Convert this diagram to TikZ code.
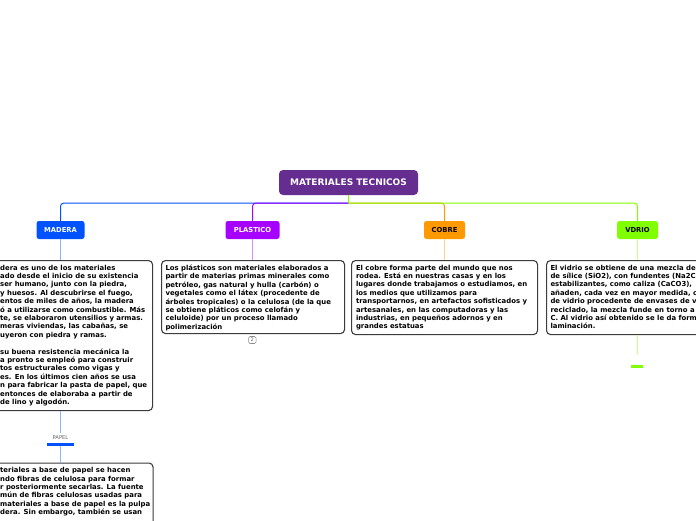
\documentclass[tikz,border=0pt]{standalone}
\usepackage{fontspec}
\setmainfont{DejaVu Sans}
\usetikzlibrary{calc}
\definecolor{rootfill}{HTML}{662D91}
\definecolor{maderafill}{HTML}{0052FF}
\definecolor{plasticofill}{HTML}{A600FF}
\definecolor{cobrefill}{HTML}{FF9900}
\definecolor{vdriofill}{HTML}{80FF00}
\definecolor{noteedge}{HTML}{3C3C3C}

\begin{document}
\begin{tikzpicture}[
    x=1pt, y=-1pt,
    rootbox/.style={
      fill=rootfill, rounded corners=4pt,
      minimum width=139pt, minimum height=25pt, inner sep=0pt,
      text=white, font=\fontsize{9}{10}\selectfont\bfseries,
    },
    topicbox/.style={
      rounded corners=2.5pt, minimum height=18pt, inner sep=0pt,
      font=\fontsize{6.8}{8}\selectfont\bfseries,
    },
    notebox/.style={
      draw=noteedge, fill=white, rounded corners=4pt, line width=1.1pt,
      anchor=north west, inner sep=0pt,
    },
    notetext/.style={
      anchor=north west, align=left, inner sep=0pt,
      font=\fontsize{6.9}{8.4}\selectfont\bfseries,
      execute at begin node=\strut,
    },
    busline/.style={line width=1pt, rounded corners=3pt},
    stemline/.style={line width=1pt},
    subbar/.style={minimum height=2.6pt, inner sep=0pt},
    sublabel/.style={font=\fontsize{5.2}{6}\selectfont, text=black!60,
                     inner sep=0pt},
    badge/.style={draw=black!45, rounded corners=1.5pt, line width=0.6pt,
                  minimum width=7.5pt, minimum height=7pt, inner sep=0pt,
                  font=\fontsize{5}{5}\selectfont, text=black!60},
  ]
  \fill[white, use as bounding box] (0,0) rectangle (696,520);
  \clip (0,0) rectangle (696,520);

  % -----------------------------------------------------------
  % Central topic and the four main topics
  % -----------------------------------------------------------
  \node[rootbox] (root) at (348.5,182.5) {MATERIALES TECNICOS};

  \node[topicbox, fill=maderafill, text=white, minimum width=48pt]
        (madera)   at (60.5,230)  {MADERA};
  \node[topicbox, fill=plasticofill, text=white, minimum width=54pt]
        (plastico) at (252.5,230) {PLASTICO};
  \node[topicbox, fill=cobrefill, text=black, minimum width=41pt]
        (cobre)    at (444.5,230) {COBRE};
  \node[topicbox, fill=vdriofill, text=black, minimum width=41pt]
        (vdrio)    at (637.5,230) {VDRIO};

  % -----------------------------------------------------------
  % Bus from the central topic (later ones drawn on top)
  % -----------------------------------------------------------
  \coordinate (hub) at ($(root.south)+(0,8)$);

  \draw[busline, maderafill]   (hub) -| (madera.north);
  \draw[busline, cobrefill]    (hub) -| (cobre.north);
  \draw[busline, plasticofill] (hub) -| (plastico.north);
  \draw[busline, vdriofill]    (hub) -| (vdrio.north);
  \draw[stemline, vdriofill]   (root.south) -- (hub);

  % -----------------------------------------------------------
  % Note boxes
  % -----------------------------------------------------------
  \node[notebox, minimum width=156.5pt, minimum height=150pt]
        (maderanote) at (-4.5,260) {};
  \node[notebox, minimum width=183pt, minimum height=73pt]
        (plasnote)   at (161,260) {};
  \node[notebox, minimum width=186pt, minimum height=74pt]
        (cobrenote)  at (351,260) {};
  \node[notebox, minimum width=190pt, minimum height=74pt]
        (vdrionote)  at (546,260) {};

  \draw[stemline, maderafill!45]   (madera.south)   -- (madera.south |- maderanote.north);
  \draw[stemline, plasticofill!45] (plastico.south) -- (plastico.south |- plasnote.north);
  \draw[stemline, cobrefill!45]    (cobre.south)    -- (cobre.south |- cobrenote.north);
  \draw[stemline, vdriofill!45]    (vdrio.south)    -- (vdrio.south |- vdrionote.north);

  \node[notetext] (maderatext) at ($(maderanote.north west)+(4.5,4.7)$)
        {dera es uno de los materiales\\
         ado desde el inicio de su existencia\\
         ser humano, junto con la piedra,\\
         y huesos. Al descubrirse el fuego,\\
         entos de miles de años, la madera\\
         ó a utilizarse como combustible. Más\\
         te, se elaboraron utensilios y armas.\\
         meras viviendas, las cabañas, se\\
         uyeron con piedra y ramas.\\[8.4pt]
         su buena resistencia mecánica la\\
         a pronto se empleó para construir\\
         tos estructurales como vigas y\\
         es. En los últimos cien años se usa\\
         n para fabricar la pasta de papel, que\\
         entonces de elaboraba a partir de\\
         de lino y algodón.};

  \node[notetext] (plastext) at ($(plasnote.north west)+(4.3,4.7)$)
        {Los plásticos son materiales elaborados a\\
         partir de materias primas minerales como\\
         petróleo, gas natural y hulla (carbón) o\\
         vegetales como el látex (procedente de\\
         árboles tropicales) o la celulosa (de la que\\
         se obtiene pláticos como celofán y\\
         celuloide) por un proceso llamado\\
         polimerización};

  \node[notetext] (cobretext) at ($(cobrenote.north west)+(4.8,4.7)$)
        {El cobre forma parte del mundo que nos\\
         rodea. Está en nuestras casas y en los\\
         lugares donde trabajamos o estudiamos, en\\
         los medios que utilizamos para\\
         transportarnos, en artefactos sofisticados y\\
         artesanales, en las computadoras y las\\
         industrias, en pequeños adornos y en\\
         grandes estatuas};

  \node[notetext] (vdriotext) at ($(vdrionote.north west)+(4.3,4.7)$)
        {El vidrio se obtiene de una mezcla de\\
         de sílice (SiO2), con fundentes (Na2C\\
         estabilizantes, como caliza (CaCO3),\\
         añaden, cada vez en mayor medida, c\\
         de vidrio procedente de envases de v\\
         reciclado, la mezcla funde en torno a\\
         C. Al vidrio así obtenido se le da form\\
         laminación.};

  \node[badge] (plasbadge) at (252.3,340) {2};

  % -----------------------------------------------------------
  % Subtopics: PAPEL under MADERA, empty one under VDRIO
  % -----------------------------------------------------------
  \node[sublabel] (papel) at (60.5,437.6) {PAPEL};
  \node[subbar, fill=maderafill, minimum width=27pt]
        (papelbar) at (60.5,444.3) {};
  \coordinate (papeltop) at ($(papel.north)+(0,-3)$);
  \node[notebox, minimum width=157pt, minimum height=80pt]
        (papelnote) at (-4.5,462.5) {};

  \draw[stemline, maderafill!45] (maderanote.south -| papel) -- (papeltop);
  \draw[stemline, maderafill!45] (papelbar.south) -- (papelbar.south |- papelnote.north);

  \node[notetext] (papeltext) at ($(papelnote.north west)+(4.5,4.7)$)
        {teriales a base de papel se hacen\\
         ndo fibras de celulosa para formar\\
         r posteriormente secarlas. La fuente\\
         mún de fibras celulosas usadas para\\
         materiales a base de papel es la pulpa\\
         dera. Sin embargo, también se usan};

  \coordinate (vdriotip) at (637.3,355);
  \node[subbar, fill=vdriofill, minimum width=12pt, minimum height=2.8pt]
        (vdriobar) at (637,366.5) {};
  \draw[stemline, vdriofill!45] (vdriotip |- vdrionote.south) -- (vdriotip);

\end{tikzpicture}
\end{document}
